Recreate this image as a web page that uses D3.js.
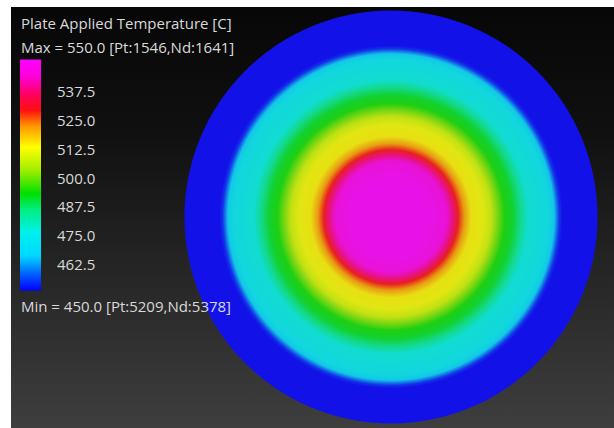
<!DOCTYPE html>
<html><head><meta charset="utf-8">
<script src="https://cdn.jsdelivr.net/npm/d3@7"></script>
<style>html,body{margin:0;padding:0;background:#fff;overflow:hidden}</style>
</head><body><svg id="chart" width="614" height="428"></svg>
<script>
// ---- data ----
const titleText = "Plate Applied Temperature [C]";
const maxText = "Max = 550.0 [Pt:1546,Nd:1641]";
const minText = "Min = 450.0 [Pt:5209,Nd:5378]";
const tempMin = 450, tempMax = 550;
const tickValues = [537.5, 525.0, 512.5, 500.0, 487.5, 475.0, 462.5];
// colormap (temperature -> legend colour)
const colorTemps  = [450, 456, 465, 475, 485, 492, 502, 512, 521, 528, 535, 543, 550];
const colorValues = ["#0000ff", "#0050ff", "#00d8ff", "#00f0ee", "#00ee80", "#00e000", "#a0ee00", "#ffff00", "#ff9900", "#ff1010", "#ff0060", "#ff00e0", "#ff00ff"];
// radial temperature profile of the plate (normalised radius 0 = centre, 1 = edge)
const radialPosition = [0, 0.19, 0.27, 0.30, 0.325, 0.355, 0.39, 0.445, 0.485, 0.515, 0.55, 0.59, 0.63, 0.665, 0.765, 0.79, 0.815, 0.83, 1];
const radialTemp     = [550, 550, 545, 537, 528, 520, 513, 511, 507, 500, 493, 490, 483, 476, 472, 465, 453, 450, 450];

// ---- drawing ----
const W = 614, H = 428;
const svg = d3.select("#chart");
const defs = svg.append("defs");

const color = d3.scaleLinear().domain(colorTemps).range(colorValues).interpolate(d3.interpolateRgb);
const plateColor = t => d3.interpolateRgb(color(t), "#707070")(0.16);

// background
const bg = defs.append("linearGradient").attr("id", "bgGrad").attr("x1", 0).attr("y1", 0).attr("x2", 0).attr("y2", 1);
bg.append("stop").attr("offset", 0).attr("stop-color", "#070707");
bg.append("stop").attr("offset", 0.3).attr("stop-color", "#101010");
bg.append("stop").attr("offset", 1).attr("stop-color", "#3e3e3e");
svg.append("rect").attr("x", 11).attr("y", 7).attr("width", W - 11).attr("height", H - 7).attr("fill", "url(#bgGrad)");

// plate
const pg = defs.append("radialGradient").attr("id", "plateGrad").attr("cx", 0.5).attr("cy", 0.5).attr("r", 0.5);
pg.selectAll("stop").data(radialPosition).join("stop")
  .attr("offset", d => d)
  .attr("stop-color", (d, i) => plateColor(radialTemp[i]));
svg.append("circle").attr("cx", 391).attr("cy", 217).attr("r", 206.5).attr("fill", "url(#plateGrad)");

// legend bar
const yScale = d3.scaleLinear().domain([tempMin, tempMax]).range([290.5, 59.5]);
const offScale = d3.scaleLinear().domain([tempMax, tempMin]).range([0, 1]);
const lg = defs.append("linearGradient").attr("id", "legGrad").attr("x1", 0).attr("y1", 0).attr("x2", 0).attr("y2", 1);
lg.selectAll("stop").data(colorTemps.slice().reverse()).join("stop")
  .attr("offset", d => offScale(d))
  .attr("stop-color", d => color(d));
svg.append("rect").attr("x", 20).attr("y", yScale(tempMax)).attr("width", 21)
  .attr("height", yScale(tempMin) - yScale(tempMax)).attr("fill", "url(#legGrad)");

const font = "'Open Sans', 'Noto Sans', sans-serif";
const txtColor = "#d9d9d9";
const g = svg.append("g").attr("font-family", font).attr("font-size", 15).attr("fill", txtColor);
g.append("text").attr("x", 21).attr("y", 29).text(titleText);
g.append("text").attr("x", 21).attr("y", 53).text(maxText);
g.append("text").attr("x", 21).attr("y", 312).text(minText);
g.selectAll("text.tick").data(tickValues).join("text").attr("class", "tick")
  .attr("x", 57).attr("y", d => yScale(d) + 8.5)
  .text(d => d3.format(".1f")(d));
</script></body></html>
